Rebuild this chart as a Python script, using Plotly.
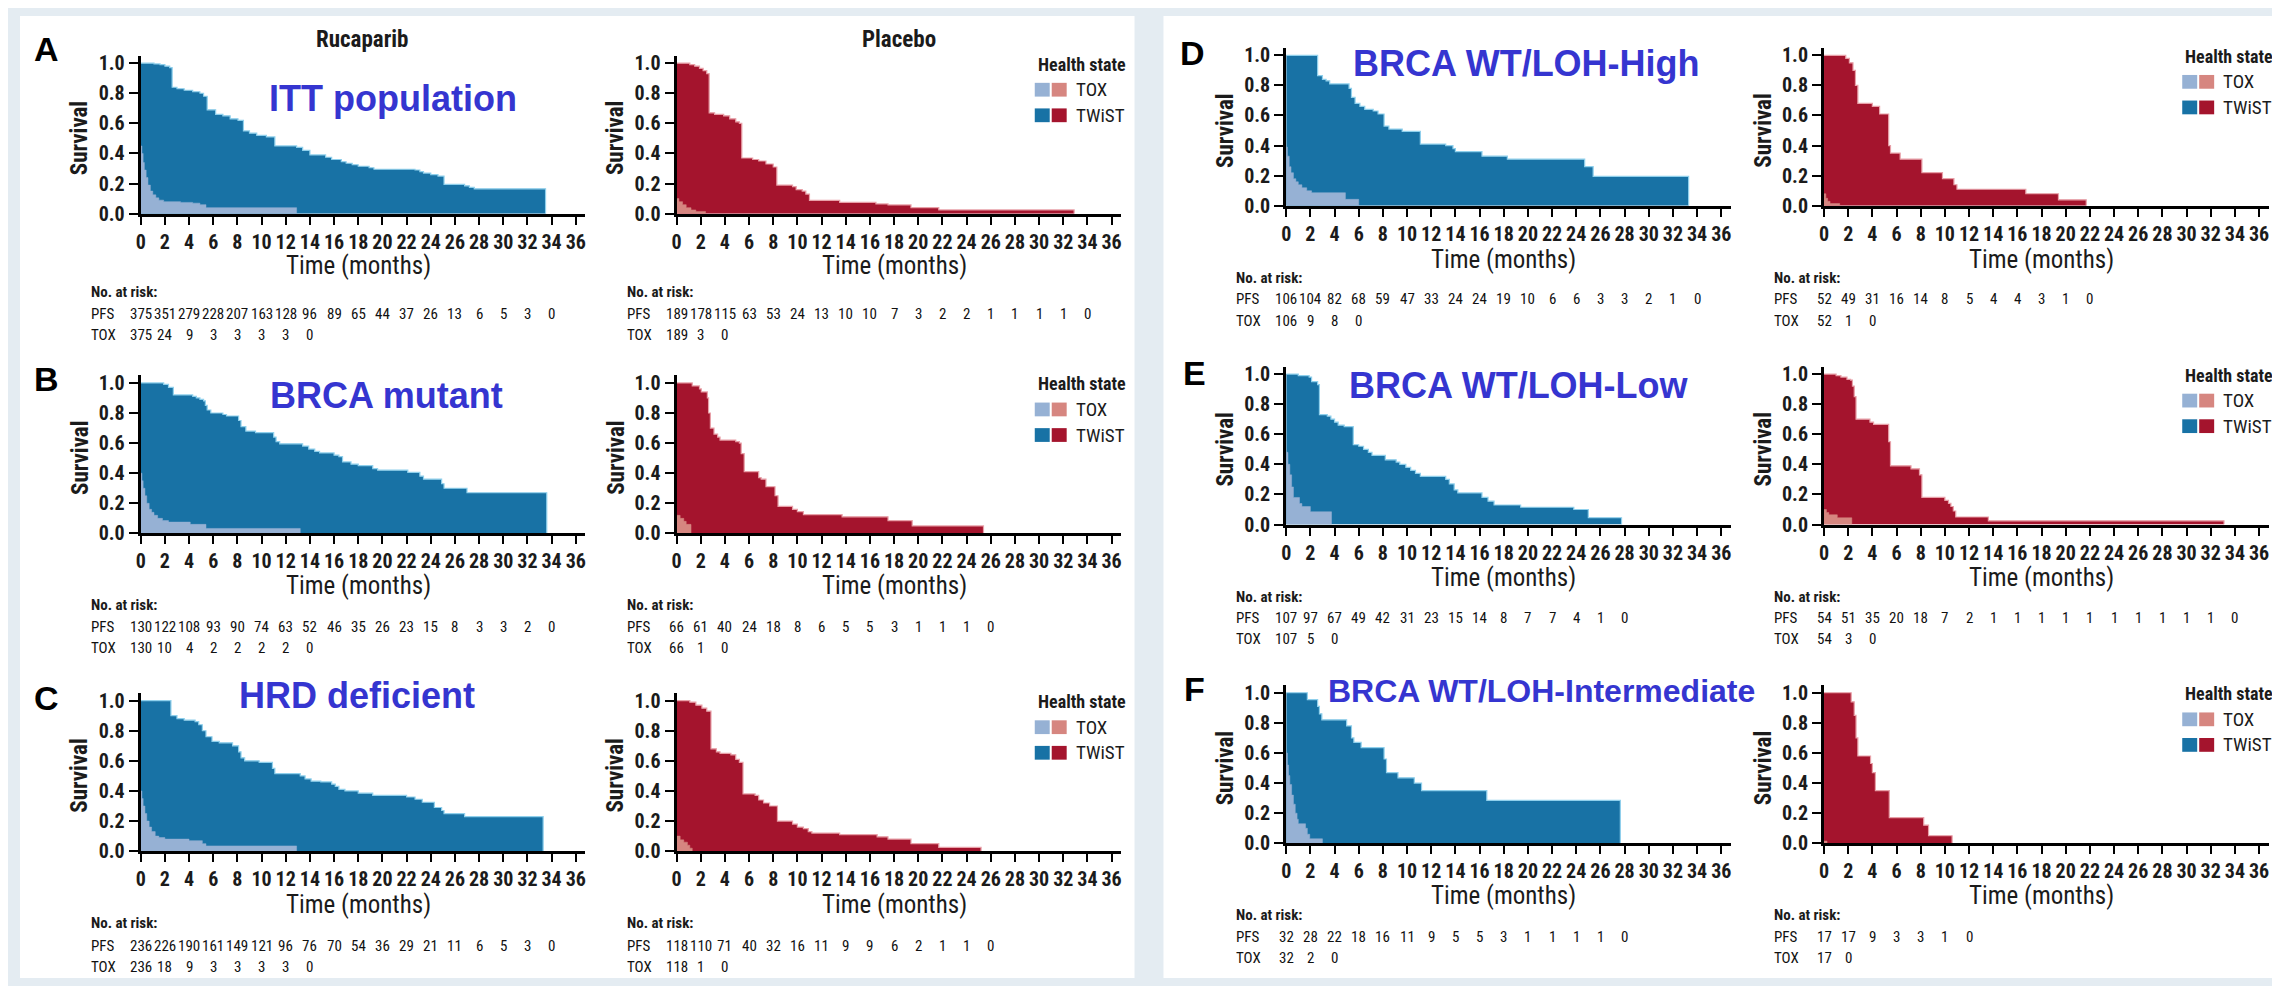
import plotly.graph_objects as go

# ---------------- data (time in months, survival probability) ----------------
A_ruc_pfs = [(0,1.0),(1.1,0.995),(1.6,0.99),(2.0,0.98),(2.4,0.97),(2.6,0.84),(3.0,0.83),(3.6,0.82),(4.3,0.81),(4.9,0.80),(5.2,0.78),(5.5,0.69),(6.2,0.66),(6.8,0.65),(7.4,0.63),(8.05,0.62),(8.5,0.55),(9.0,0.535),(9.6,0.52),(10.4,0.51),(11.1,0.45),(12.9,0.44),(13.4,0.42),(14.0,0.39),(15.3,0.375),(15.8,0.36),(16.6,0.345),(17.0,0.335),(17.5,0.325),(18.0,0.315),(18.9,0.305),(19.3,0.295),(22.7,0.29),(23.1,0.28),(23.4,0.27),(24.0,0.26),(24.6,0.25),(25.1,0.195),(26.8,0.185),(27.2,0.175),(27.6,0.165),(33.5,0)]
A_ruc_tox = [(0,0.45),(0.1,0.40),(0.2,0.34),(0.3,0.29),(0.45,0.24),(0.6,0.19),(0.8,0.15),(1.0,0.125),(1.25,0.105),(1.5,0.09),(1.9,0.08),(3.3,0.075),(4.3,0.07),(4.9,0.06),(5.4,0.04),(12.9,0)]
A_pla_pfs = [(0,1.0),(1.1,0.99),(1.5,0.98),(1.9,0.965),(2.2,0.95),(2.5,0.93),(2.7,0.67),(3.15,0.66),(3.9,0.65),(4.4,0.63),(4.9,0.61),(5.2,0.60),(5.4,0.37),(6.3,0.36),(6.8,0.35),(7.4,0.33),(8.0,0.31),(8.3,0.19),(9.6,0.18),(9.9,0.16),(10.4,0.15),(10.7,0.13),(11.0,0.088),(13.5,0.075),(16.5,0.065),(17.5,0.058),(19.4,0.04),(21.7,0.025),(32.9,0)]
A_pla_tox = [(0,0.10),(0.2,0.08),(0.5,0.06),(0.8,0.04),(1.2,0.025),(1.6,0.015),(2.4,0)]

B_ruc_pfs = [(0,1.0),(1.9,0.99),(2.3,0.97),(2.7,0.92),(4.3,0.91),(4.6,0.90),(4.9,0.89),(5.2,0.88),(5.35,0.85),(5.5,0.82),(5.8,0.80),(6.8,0.79),(7.1,0.78),(8.1,0.75),(8.3,0.71),(8.7,0.68),(9.5,0.67),(11.0,0.64),(11.2,0.61),(11.5,0.595),(13.4,0.58),(13.9,0.56),(14.4,0.545),(14.8,0.535),(16.0,0.52),(16.4,0.51),(16.7,0.475),(17.4,0.46),(18.0,0.45),(19.2,0.43),(19.6,0.42),(22.1,0.405),(23.1,0.38),(23.4,0.36),(24.9,0.33),(25.1,0.30),(27.0,0.27),(33.6,0)]
B_ruc_tox = [(0,0.40),(0.1,0.35),(0.2,0.30),(0.35,0.25),(0.5,0.20),(0.7,0.16),(0.9,0.14),(1.1,0.12),(1.4,0.10),(1.8,0.085),(2.3,0.075),(4.1,0.06),(5.4,0.033),(13.2,0)]
B_pla_pfs = [(0,1.0),(1.3,0.98),(1.9,0.96),(2.05,0.94),(2.55,0.90),(2.65,0.80),(2.8,0.70),(3.1,0.66),(3.4,0.64),(3.6,0.62),(4.9,0.61),(5.2,0.60),(5.35,0.53),(5.6,0.41),(6.8,0.37),(7.0,0.36),(7.4,0.31),(8.15,0.25),(8.4,0.18),(9.6,0.16),(10.0,0.145),(10.5,0.125),(13.7,0.11),(17.5,0.085),(19.5,0.05),(25.4,0)]
B_pla_tox = [(0,0.12),(0.3,0.10),(0.6,0.08),(0.8,0.06),(1.2,0)]

C_ruc_pfs = [(0,1.0),(2.5,0.90),(3.0,0.88),(3.6,0.87),(4.5,0.86),(4.8,0.84),(5.1,0.80),(5.4,0.76),(5.9,0.73),(6.5,0.72),(7.6,0.70),(8.1,0.66),(8.3,0.62),(8.6,0.60),(9.8,0.59),(10.9,0.55),(11.1,0.515),(13.2,0.50),(13.6,0.48),(14.1,0.465),(14.9,0.46),(15.8,0.445),(16.1,0.43),(16.4,0.41),(16.9,0.40),(18.0,0.385),(19.2,0.37),(22.0,0.36),(22.7,0.345),(23.3,0.325),(24.3,0.29),(24.9,0.27),(25.1,0.25),(26.8,0.23),(33.3,0)]
C_ruc_tox = [(0,0.40),(0.1,0.35),(0.2,0.30),(0.35,0.25),(0.5,0.20),(0.7,0.16),(0.9,0.13),(1.2,0.10),(1.5,0.09),(2.0,0.08),(4.0,0.07),(5.1,0.05),(5.4,0.035),(12.9,0)]
C_pla_pfs = [(0,1.0),(1.1,0.99),(1.6,0.97),(2.1,0.95),(2.5,0.93),(2.85,0.68),(3.3,0.66),(3.6,0.65),(4.5,0.64),(4.9,0.61),(5.2,0.59),(5.5,0.38),(6.5,0.37),(6.8,0.34),(7.2,0.32),(7.7,0.30),(8.35,0.20),(9.6,0.18),(10.0,0.16),(10.5,0.15),(10.9,0.13),(11.2,0.12),(13.5,0.11),(16.6,0.095),(17.5,0.08),(19.4,0.05),(21.7,0.025),(25.2,0)]
C_pla_tox = [(0,0.10),(0.3,0.075),(0.6,0.06),(0.9,0.04),(1.1,0.02),(1.3,0)]

D_ruc_pfs = [(0,1.0),(2.6,0.865),(3.0,0.84),(3.3,0.83),(3.6,0.81),(5.2,0.78),(5.4,0.72),(5.7,0.68),(6.1,0.66),(6.5,0.64),(7.2,0.63),(7.6,0.61),(8.1,0.53),(8.5,0.51),(9.6,0.495),(11.1,0.41),(13.2,0.40),(13.8,0.38),(14.0,0.36),(16.2,0.33),(18.3,0.31),(24.7,0.26),(25.4,0.195),(33.3,0)]
D_ruc_tox = [(0,0.39),(0.1,0.33),(0.25,0.26),(0.4,0.22),(0.6,0.18),(0.8,0.16),(1.0,0.14),(1.3,0.12),(1.7,0.10),(2.1,0.087),(4.9,0.043),(6.0,0)]
D_pla_pfs = [(0,1.0),(1.8,0.98),(2.1,0.95),(2.4,0.90),(2.6,0.80),(2.8,0.68),(4.0,0.66),(4.6,0.61),(5.35,0.40),(5.5,0.35),(6.3,0.31),(8.1,0.22),(9.8,0.18),(10.75,0.14),(11.0,0.11),(16.7,0.08),(19.4,0.04),(21.7,0)]
D_pla_tox = [(0,0.08),(0.15,0.05),(0.3,0.03),(0.5,0.015),(1.3,0)]

E_ruc_pfs = [(0,1.0),(1.0,0.99),(1.9,0.98),(2.1,0.95),(2.6,0.93),(2.75,0.73),(3.4,0.72),(3.7,0.70),(4.0,0.68),(4.3,0.66),(4.8,0.65),(5.55,0.53),(6.0,0.52),(6.4,0.50),(6.8,0.48),(7.1,0.46),(8.2,0.43),(9.1,0.415),(9.4,0.40),(9.9,0.38),(10.3,0.36),(10.7,0.34),(11.1,0.32),(13.2,0.30),(13.5,0.27),(13.9,0.23),(14.2,0.21),(16.2,0.18),(16.7,0.155),(17.2,0.13),(19.4,0.115),(23.8,0.10),(25.0,0.045),(27.75,0)]
E_ruc_tox = [(0,0.48),(0.15,0.40),(0.3,0.33),(0.45,0.25),(0.6,0.18),(1.1,0.14),(1.3,0.12),(2.0,0.085),(3.75,0)]
E_pla_pfs = [(0,1.0),(1.0,0.99),(1.4,0.98),(1.9,0.965),(2.2,0.96),(2.35,0.92),(2.5,0.85),(2.65,0.70),(3.8,0.68),(4.1,0.665),(5.35,0.55),(5.5,0.39),(7.2,0.37),(7.9,0.33),(8.1,0.18),(10.0,0.16),(10.3,0.14),(10.5,0.12),(10.7,0.09),(10.9,0.05),(13.6,0.025),(33.1,0)]
E_pla_tox = [(0,0.10),(0.2,0.08),(0.4,0.065),(1.1,0.045),(2.3,0)]

F_ruc_pfs = [(0,1.0),(1.75,0.955),(2.6,0.91),(2.75,0.86),(2.95,0.82),(5.0,0.78),(5.4,0.70),(5.6,0.67),(6.2,0.635),(8.1,0.56),(8.3,0.47),(9.25,0.435),(10.6,0.40),(11.2,0.35),(16.6,0.285),(27.65,0)]
F_ruc_tox = [(0,0.60),(0.1,0.52),(0.2,0.45),(0.3,0.39),(0.45,0.32),(0.6,0.26),(0.75,0.20),(0.9,0.16),(1.0,0.13),(1.6,0.10),(1.75,0.06),(1.95,0.03),(3.0,0)]
F_pla_pfs = [(0,1.0),(2.25,0.94),(2.5,0.85),(2.65,0.70),(2.8,0.58),(3.85,0.53),(4.0,0.47),(4.25,0.35),(5.4,0.17),(8.25,0.12),(8.65,0.05),(10.6,0)]
F_pla_tox = [(0,0.015),(0.25,0)]

# numbers at risk (every 2 months from 0)
A_ruc_risk_pfs = [375,351,279,228,207,163,128,96,89,65,44,37,26,13,6,5,3,0]
A_ruc_risk_tox = [375,24,9,3,3,3,3,0]
A_pla_risk_pfs = [189,178,115,63,53,24,13,10,10,7,3,2,2,1,1,1,1,0]
A_pla_risk_tox = [189,3,0]
B_ruc_risk_pfs = [130,122,108,93,90,74,63,52,46,35,26,23,15,8,3,3,2,0]
B_ruc_risk_tox = [130,10,4,2,2,2,2,0]
B_pla_risk_pfs = [66,61,40,24,18,8,6,5,5,3,1,1,1,0]
B_pla_risk_tox = [66,1,0]
C_ruc_risk_pfs = [236,226,190,161,149,121,96,76,70,54,36,29,21,11,6,5,3,0]
C_ruc_risk_tox = [236,18,9,3,3,3,3,0]
C_pla_risk_pfs = [118,110,71,40,32,16,11,9,9,6,2,1,1,0]
C_pla_risk_tox = [118,1,0]
D_ruc_risk_pfs = [106,104,82,68,59,47,33,24,24,19,10,6,6,3,3,2,1,0]
D_ruc_risk_tox = [106,9,8,0]
D_pla_risk_pfs = [52,49,31,16,14,8,5,4,4,3,1,0]
D_pla_risk_tox = [52,1,0]
E_ruc_risk_pfs = [107,97,67,49,42,31,23,15,14,8,7,7,4,1,0]
E_ruc_risk_tox = [107,5,0]
E_pla_risk_pfs = [54,51,35,20,18,7,2,1,1,1,1,1,1,1,1,1,1,0]
E_pla_risk_tox = [54,3,0]
F_ruc_risk_pfs = [32,28,22,18,16,11,9,5,5,3,1,1,1,1,0]
F_ruc_risk_tox = [32,2,0]
F_pla_risk_pfs = [17,17,9,3,3,1,0]
F_pla_risk_tox = [17,0]

x_ticks = list(range(0, 37, 2))
y_ticks = [0.0, 0.2, 0.4, 0.6, 0.8, 1.0]
y_ticktext = ["0.0", "0.2", "0.4", "0.6", "0.8", "1.0"]

subgroups = {"A": "ITT population", "B": "BRCA mutant", "C": "HRD deficient",
             "D": "BRCA WT/LOH-High", "E": "BRCA WT/LOH-Low", "F": "BRCA WT/LOH-Intermediate"}

# ---------------- styling / geometry ----------------
W, H = 2280, 986
XMAX, YMAX = 36.8, 1.05
PXM = 436 / 36.0
PXS = 153.0
BLUE, BLUE_L, BLUE_E = "#1872a5", "#96b1d4", "#8fd0ec"
RED, RED_L, RED_E = "#a4142d", "#d68680", "#e8a0a8"
TXT = "#1b1b1b"
TITLE_BLUE = "#3535d0"
NARROW = "Roboto Condensed, DejaVu Sans Condensed, Liberation Sans Narrow, Noto Sans, Liberation Sans, sans-serif"
SANS = "Liberation Sans, Arial, sans-serif"

def cond(s):
    return '<span style="font-stretch:condensed">' + s + '</span>'

def fx(p):
    return p / W

def fy(p):
    return 1 - p / H

col_x0 = {"L1": 128, "L2": 665, "R1": 1276, "R2": 1815}
row_y0 = {"A": 205, "B": 530, "C": 853, "D": 197, "E": 521, "F": 845}
row_off = {"A": (53, 80, 102, 123), "B": (53, 73, 95, 116), "C": (54, 73, 96, 118),
           "D": (55, 73, 95, 117), "E": (54, 74, 95, 116), "F": (53, 73, 95, 117)}
title_pos = {"A": (381, 88, 36), "B": (374, 390, 36), "C": (345, 695, 36),
             "D": (1517, 52, 36), "E": (1509, 380, 36), "F": (1532, 690, 32)}
letter_pos = {"A": (34, 38), "B": (34, 373), "C": (34, 697),
              "D": (1182, 42), "E": (1184, 367), "F": (1184, 688)}

D = globals()
charts = []
for L in "ABCDEF":
    left = L in "ABC"
    for arm in ("ruc", "pla"):
        col = ("L" if left else "R") + ("1" if arm == "ruc" else "2")
        charts.append(dict(L=L, arm=arm, col=col,
                           pfs=D[f"{L}_{arm}_pfs"], tox=D[f"{L}_{arm}_tox"],
                           rp=D[f"{L}_{arm}_risk_pfs"], rt=D[f"{L}_{arm}_risk_tox"]))

fig = go.Figure()
shapes = [
    dict(type="rect", xref="paper", yref="paper", x0=fx(7), x1=fx(1124), y0=fy(982), y1=fy(4),
         fillcolor="white", line=dict(width=0), layer="below"),
    dict(type="rect", xref="paper", yref="paper", x0=fx(1153), x1=fx(2273), y0=fy(982), y1=fy(4),
         fillcolor="white", line=dict(width=0), layer="below"),
]
ann = []

def add_text(x, y, text, size, family=NARROW, bold=False, color=TXT, xanchor="center",
             angle=0, xref="paper", narrow=True):
    ann.append(dict(x=x if xref != "paper" else fx(x), y=fy(y), xref=xref, yref="paper",
                    text=cond(text) if narrow else text, showarrow=False, xanchor=xanchor,
                    yanchor="middle", textangle=angle,
                    font=dict(family=family, size=size, color=color,
                              weight="bold" if bold else "normal")))

for i, c in enumerate(charts, start=1):
    x0 = col_x0[c["col"]]
    y0 = row_y0[c["L"]]
    xa = "x" if i == 1 else f"x{i}"
    ya = "y" if i == 1 else f"y{i}"
    xk = "xaxis" if i == 1 else f"xaxis{i}"
    yk = "yaxis" if i == 1 else f"yaxis{i}"
    red = c["arm"] == "pla"
    main, light, edge = (RED, RED_L, RED_E) if red else (BLUE, BLUE_L, BLUE_E)

    fig.add_trace(go.Scatter(x=[p[0] for p in c["pfs"]], y=[p[1] for p in c["pfs"]],
                             mode="lines", line=dict(shape="hv", color=edge, width=1.2),
                             fill="tozeroy", fillcolor=main, xaxis=xa, yaxis=ya,
                             hoverinfo="skip"))
    fig.add_trace(go.Scatter(x=[p[0] for p in c["tox"]], y=[p[1] for p in c["tox"]],
                             mode="lines", line=dict(shape="hv", color=light, width=0.5),
                             fill="tozeroy", fillcolor=light, xaxis=xa, yaxis=ya,
                             hoverinfo="skip"))

    tf = dict(family=NARROW, size=20, color=TXT, weight="bold")
    fig.layout[xk] = dict(domain=[fx(x0), fx(x0 + XMAX * PXM)], range=[0, XMAX], anchor=ya,
                          tickvals=x_ticks, ticktext=[cond(str(v)) for v in x_ticks],
                          ticks="outside", ticklen=8, tickwidth=2,
                          tickcolor="black", showline=True, linewidth=3, linecolor="black",
                          showgrid=False, zeroline=False, fixedrange=True, tickfont=tf)
    fig.layout[yk] = dict(domain=[fy(y0), fy(y0 - YMAX * PXS)], range=[0, YMAX], anchor=xa,
                          tickvals=y_ticks, ticktext=[cond(t) for t in y_ticktext],
                          ticks="outside", ticklen=9,
                          tickwidth=2, tickcolor="black", showline=True, linewidth=3,
                          linecolor="black", showgrid=False, zeroline=False, fixedrange=True,
                          tickfont=tf)

    o_time, o_nar, o_pfs, o_tox = row_off[c["L"]]
    add_text(x0 + 218, y0 + o_time, "Time (months)", 25)
    add_text(x0 - 61, y0 - 0.5 * PXS, "Survival", 23, bold=True, angle=-90)
    nx = x0 - 52
    add_text(nx, y0 + o_nar, "No. at risk:", 15, bold=True, xanchor="left")
    add_text(nx, y0 + o_pfs, "PFS", 15, color="#111", xanchor="left")
    add_text(nx, y0 + o_tox, "TOX", 15, color="#111", xanchor="left")
    for k, v in enumerate(c["rp"]):
        add_text(2 * k, y0 + o_pfs, str(v), 15, color="#111", xref=xa)
    for k, v in enumerate(c["rt"]):
        add_text(2 * k, y0 + o_tox, str(v), 15, color="#111", xref=xa)

    if c["arm"] == "pla":
        y1 = y0 - PXS
        add_text(x0 + 360, y1 + 1, "Health state", 18, bold=True, xanchor="left")
        for j, (lab, cb, cr) in enumerate([("TOX", BLUE_L, RED_L), ("TWiST", BLUE, RED)]):
            yy = y1 + 27 + 26 * j
            for sx, colr in ((x0 + 359, cb), (x0 + 376, cr)):
                shapes.append(dict(type="rect", xref="paper", yref="paper",
                                   x0=fx(sx), x1=fx(sx + 15), y0=fy(yy + 7), y1=fy(yy - 7),
                                   fillcolor=colr, line=dict(width=0)))
            add_text(x0 + 398, yy, lab, 19, xanchor="left")

# titles, letters
add_text(350, 28, "Rucaparib", 23, bold=True)
add_text(888, 28, "Placebo", 23, bold=True)
for L in "ABCDEF":
    lx, ly = letter_pos[L]
    add_text(lx, ly, L, 34, family=SANS, bold=True, color="black", narrow=False)
    tx, ty, ts = title_pos[L]
    add_text(tx, ty, subgroups[L], ts, family=SANS, bold=True, color=TITLE_BLUE, narrow=False)

fig.update_layout(width=W, height=H, margin=dict(l=0, r=0, t=0, b=0),
                  paper_bgcolor="#e4ecf2", plot_bgcolor="rgba(0,0,0,0)",
                  showlegend=False, shapes=shapes, annotations=ann)
fig.write_html("out.html")
